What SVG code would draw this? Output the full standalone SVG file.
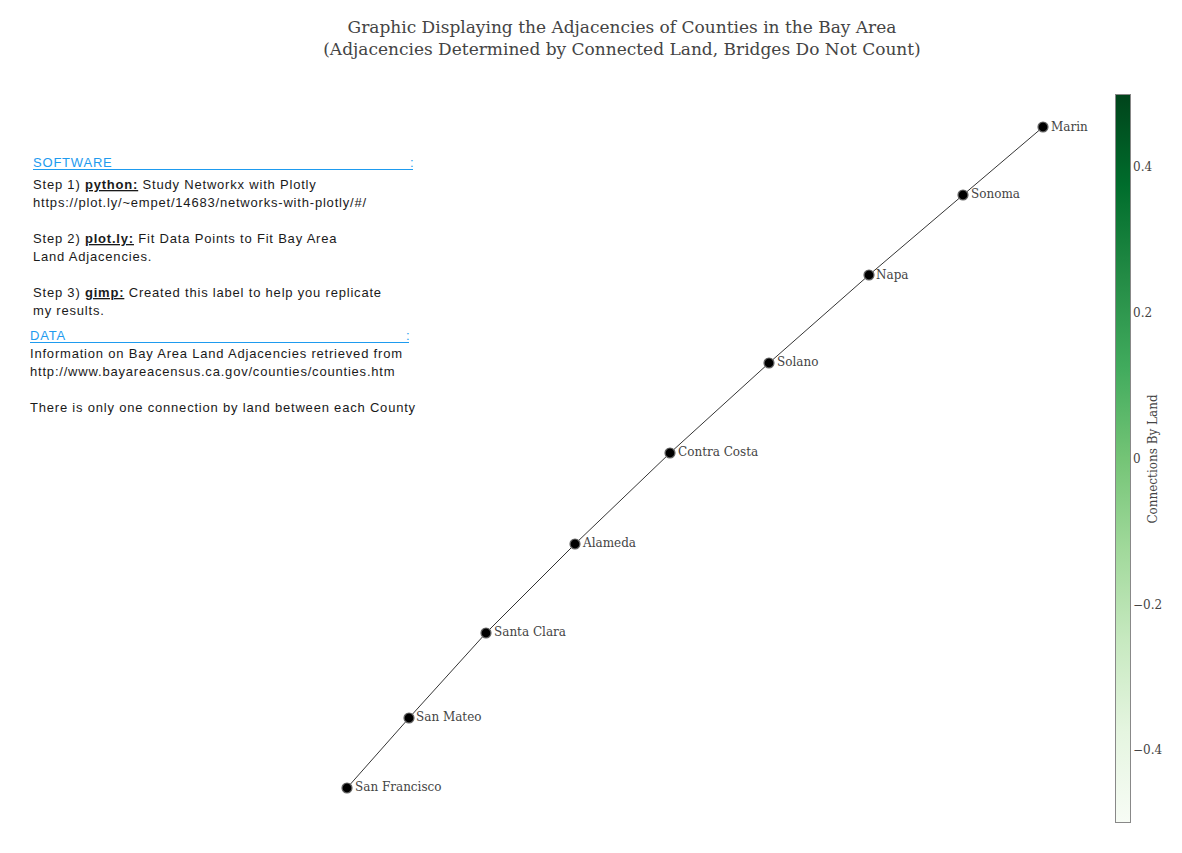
<svg xmlns="http://www.w3.org/2000/svg" width="1182" height="853" viewBox="0 0 1182 853">
<defs>
<linearGradient id="greens" x1="0" y1="1" x2="0" y2="0">
<stop offset="0" stop-color="rgb(247,252,245)"/>
<stop offset="0.125" stop-color="rgb(229,245,224)"/>
<stop offset="0.25" stop-color="rgb(199,233,192)"/>
<stop offset="0.375" stop-color="rgb(161,217,155)"/>
<stop offset="0.5" stop-color="rgb(116,196,118)"/>
<stop offset="0.625" stop-color="rgb(65,171,93)"/>
<stop offset="0.75" stop-color="rgb(35,139,69)"/>
<stop offset="0.875" stop-color="rgb(0,109,44)"/>
<stop offset="1" stop-color="rgb(0,68,27)"/>
</linearGradient>
<style>
.title{font-family:"DejaVu Serif",serif;font-size:17px;fill:#444;text-anchor:middle}
.lbl{font-family:"DejaVu Serif",serif;font-size:12px;fill:#444}
.tick{font-family:"DejaVu Serif",serif;font-size:12px;fill:#444}
.node{fill:#000;stroke:#666;stroke-width:1.2}
.edge{stroke:#000;stroke-width:0.8;fill:none}
.ann{font-family:"Liberation Sans",Arial,sans-serif;font-size:13px;fill:#1a1a1a;letter-spacing:0.8px}
.hdr{font-family:"Liberation Sans",Arial,sans-serif;font-size:13px;fill:#1e9bef;letter-spacing:0.8px}
.b{font-weight:bold;text-decoration:underline}
</style>
</defs>
<rect width="1182" height="853" fill="#fff"/>
<text class="title" x="622" y="33">Graphic Displaying the Adjacencies of Counties in the Bay Area</text>
<text class="title" x="622" y="55">(Adjacencies Determined by Connected Land, Bridges Do Not Count)</text>

<g id="connectors">
<polyline class="edge" points="1043,127 963,195 869,275 769,363 670,453 575,544 486,633 409,718 347,788"/>
</g>

<g id="marin"><circle class="node" cx="1043" cy="127" r="5"/><text class="lbl" x="1051" y="131">Marin</text></g>
<g id="sonoma"><circle class="node" cx="963" cy="195" r="5"/><text class="lbl" x="971" y="198">Sonoma</text></g>
<g id="napa"><circle class="node" cx="869" cy="275" r="5"/><text class="lbl" x="876" y="279">Napa</text></g>
<g id="solano"><circle class="node" cx="769" cy="363" r="5"/><text class="lbl" x="777" y="366">Solano</text></g>
<g id="contra-costa"><circle class="node" cx="670" cy="453" r="5"/><text class="lbl" x="678" y="456">Contra Costa</text></g>
<g id="alameda"><circle class="node" cx="575" cy="544" r="5"/><text class="lbl" x="583" y="547">Alameda</text></g>
<g id="santa-clara"><circle class="node" cx="486" cy="633" r="5"/><text class="lbl" x="494" y="636">Santa Clara</text></g>
<g id="san-mateo"><circle class="node" cx="409" cy="718" r="5"/><text class="lbl" x="416" y="721">San Mateo</text></g>
<g id="san-francisco"><circle class="node" cx="347" cy="788" r="5"/><text class="lbl" x="355" y="791">San Francisco</text></g>

<g id="colorbar">
<rect x="1115.5" y="94.5" width="15" height="728" fill="url(#greens)" stroke="#888" stroke-width="1"/>
<text class="tick" x="1133" y="171">0.4</text>
<text class="tick" x="1133" y="317">0.2</text>
<text class="tick" x="1133" y="463">0</text>
<text class="tick" x="1133" y="609">−0.2</text>
<text class="tick" x="1133" y="754">−0.4</text>
<text class="tick" x="0" y="0" text-anchor="middle" transform="translate(1157,459) rotate(-90)">Connections By Land</text>
</g>

<g id="annotation">
<text class="hdr" x="33" y="167">SOFTWARE</text>
<text class="hdr" x="410" y="167">:</text>
<line x1="33" y1="169.5" x2="413" y2="169.5" stroke="#1e9bef" stroke-width="1"/>
<text class="ann" x="33" y="189">Step 1) <tspan class="b">python:</tspan> Study Networkx with Plotly</text>
<text class="ann" x="33" y="207">https://plot.ly/~empet/14683/networks-with-plotly/#/</text>
<text class="ann" x="33" y="243">Step 2) <tspan class="b">plot.ly:</tspan> Fit Data Points to Fit Bay Area</text>
<text class="ann" x="33" y="261">Land Adjacencies.</text>
<text class="ann" x="33" y="297">Step 3) <tspan class="b">gimp:</tspan> Created this label to help you replicate</text>
<text class="ann" x="33" y="315">my results.</text>
<text class="hdr" x="30" y="340">DATA</text>
<text class="hdr" x="406" y="340">:</text>
<line x1="30" y1="342.5" x2="409" y2="342.5" stroke="#1e9bef" stroke-width="1"/>
<text class="ann" x="30" y="358">Information on Bay Area Land Adjacencies retrieved from</text>
<text class="ann" x="30" y="376">http://www.bayareacensus.ca.gov/counties/counties.htm</text>
<text class="ann" x="30" y="412">There is only one connection by land between each County</text>
</g>
</svg>
